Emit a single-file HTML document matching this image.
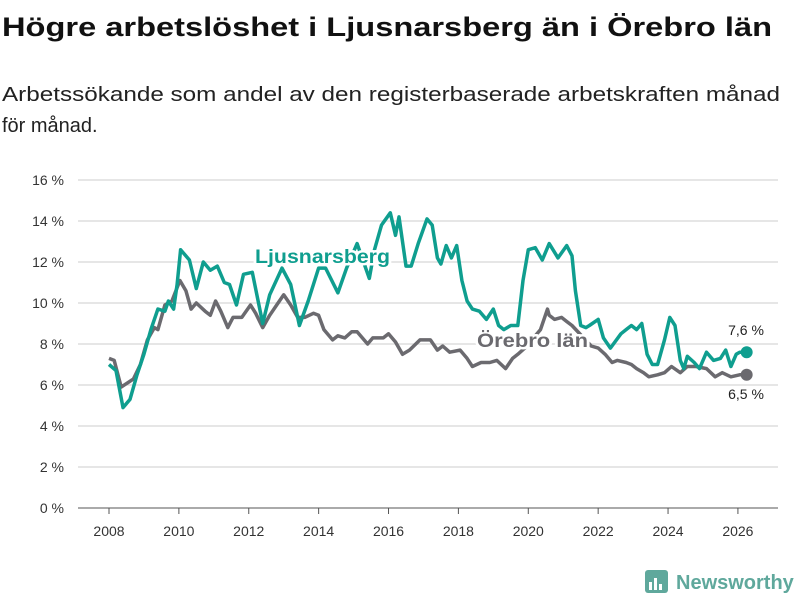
<!DOCTYPE html>
<html><head><meta charset="utf-8"><style>
body{margin:0;background:#fff;}
svg{display:block;font-family:"Liberation Sans",sans-serif;}
</style></head><body>
<svg id="chart" width="800" height="600" viewBox="0 0 800 600">
<text x="2" y="36" font-size="27" font-weight="bold" fill="#111" textLength="770" lengthAdjust="spacingAndGlyphs">Högre arbetslöshet i Ljusnarsberg än i Örebro län</text>
<text x="2" y="101" font-size="20" fill="#222" textLength="778" lengthAdjust="spacingAndGlyphs">Arbetssökande som andel av den registerbaserade arbetskraften månad</text>
<text x="2" y="132" font-size="20" fill="#222">för månad.</text>
<g id="grid"></g><g id="lines"></g><g id="labels"></g>
<g>
<rect x="645" y="570" width="23" height="23" rx="3" fill="#5fa89c"/>
<rect x="649" y="582" width="3" height="8" fill="#fff"/><rect x="654" y="578" width="3" height="12" fill="#fff"/><rect x="659" y="584" width="3" height="6" fill="#fff"/>
<text x="676" y="589" font-size="20" font-weight="bold" fill="#5fa89c">Newsworthy</text>
</g>
</svg>
<script>
const yTicks=[0,2,4,6,8,10,12,14,16];
const xTicks=[2008,2010,2012,2014,2016,2018,2020,2022,2024,2026];
const ljT=[2008.0,2008.2,2008.4,2008.6,2008.8,2009.0,2009.2,2009.4,2009.6,2009.7,2009.85,2009.95,2010.05,2010.3,2010.5,2010.7,2010.9,2011.1,2011.3,2011.45,2011.65,2011.85,2012.1,2012.4,2012.6,2012.95,2013.2,2013.45,2013.7,2014.0,2014.2,2014.55,2014.8,2015.1,2015.45,2015.6,2015.8,2016.05,2016.2,2016.3,2016.5,2016.65,2016.85,2017.1,2017.25,2017.4,2017.5,2017.65,2017.8,2017.95,2018.1,2018.25,2018.4,2018.6,2018.8,2019.0,2019.15,2019.3,2019.5,2019.7,2019.85,2020.0,2020.2,2020.4,2020.6,2020.85,2021.1,2021.25,2021.35,2021.5,2021.65,2021.75,2022.0,2022.15,2022.35,2022.65,2022.8,2022.95,2023.1,2023.25,2023.4,2023.55,2023.7,2023.9,2024.05,2024.2,2024.35,2024.45,2024.55,2024.75,2024.9,2025.1,2025.3,2025.5,2025.65,2025.8,2025.95,2026.05,2026.25];
const ljV=[7.0,6.7,4.9,5.3,6.5,7.5,8.7,9.7,9.6,10.1,9.7,10.9,12.6,12.1,10.7,12.0,11.6,11.8,11.0,10.9,9.9,11.4,11.5,9.0,10.4,11.7,10.9,8.9,10.1,11.7,11.7,10.5,11.7,12.9,11.2,12.6,13.8,14.4,13.3,14.2,11.8,11.8,12.9,14.1,13.8,12.2,11.9,12.8,12.2,12.8,11.1,10.1,9.7,9.6,9.2,9.7,8.9,8.7,8.9,8.9,11.1,12.6,12.7,12.1,12.9,12.2,12.8,12.3,10.6,8.9,8.8,8.9,9.2,8.3,7.8,8.5,8.7,8.9,8.7,9.0,7.5,7.0,7.0,8.2,9.3,8.9,7.2,6.8,7.4,7.1,6.8,7.6,7.2,7.3,7.7,6.9,7.5,7.6,7.6];
const orT=[2008.0,2008.15,2008.35,2008.7,2008.9,2009.1,2009.3,2009.4,2009.6,2009.8,2010.03,2010.2,2010.35,2010.5,2010.75,2010.9,2011.05,2011.2,2011.4,2011.55,2011.8,2012.05,2012.2,2012.4,2012.6,2012.8,2013.0,2013.2,2013.4,2013.6,2013.85,2014.0,2014.15,2014.4,2014.55,2014.75,2014.95,2015.1,2015.4,2015.55,2015.85,2016.0,2016.2,2016.4,2016.6,2016.9,2017.2,2017.4,2017.55,2017.75,2018.05,2018.25,2018.4,2018.65,2018.9,2019.1,2019.35,2019.55,2019.7,2019.9,2020.35,2020.55,2020.6,2020.75,2020.95,2021.1,2021.25,2021.8,2022.0,2022.2,2022.4,2022.55,2022.8,2022.95,2023.1,2023.3,2023.45,2023.7,2023.9,2024.1,2024.35,2024.55,2024.8,2025.1,2025.35,2025.55,2025.8,2026.05,2026.25];
const orV=[7.3,7.2,5.9,6.3,7.0,8.2,8.8,8.7,9.9,10.1,11.1,10.6,9.7,10.0,9.6,9.4,10.1,9.6,8.8,9.3,9.3,9.9,9.5,8.8,9.4,9.9,10.4,9.9,9.3,9.3,9.5,9.4,8.7,8.2,8.4,8.3,8.6,8.6,8.0,8.3,8.3,8.5,8.1,7.5,7.7,8.2,8.2,7.7,7.9,7.6,7.7,7.3,6.9,7.1,7.1,7.2,6.8,7.3,7.5,7.8,8.7,9.7,9.4,9.2,9.3,9.1,8.9,7.9,7.8,7.5,7.1,7.2,7.1,7.0,6.8,6.6,6.4,6.5,6.6,6.9,6.6,6.9,6.9,6.8,6.4,6.6,6.4,6.5,6.5];
const NS='http://www.w3.org/2000/svg';
const X=t=>109+(t-2008)*34.94;
const Y=v=>508-v*20.5;
function mk(tag,attrs,parent,txt){const e=document.createElementNS(NS,tag);for(const k in attrs)e.setAttribute(k,attrs[k]);if(txt!==undefined)e.textContent=txt;parent.appendChild(e);return e;}
const grid=document.getElementById('grid'),lines=document.getElementById('lines'),labels=document.getElementById('labels');
yTicks.forEach(v=>{
 const l=mk('line',{x1:78,x2:778,y1:Y(v),y2:Y(v),stroke:v===0?'#555':'#ddd','stroke-width':v===0?1:1.5},grid);
 
 
 const t=mk('text',{x:64,y:Y(v)+5,'text-anchor':'end','font-size':14,fill:'#333'},grid,v+' %');
 
 
});
xTicks.forEach(v=>{
 const tk=mk('line',{x1:X(v),x2:X(v),y1:508,y2:514,stroke:'#555'},grid);
 
 
 const t=mk('text',{x:X(v),y:536,'text-anchor':'middle','font-size':14,fill:'#333'},grid,String(v));
 
 
});
function series(T,V,color,name){
 const d=T.map((t,i)=>(i?'L':'M')+X(t).toFixed(1)+','+Y(V[i]).toFixed(1)).join('');
 const p=mk('path',{d:d,fill:'none',stroke:color,'stroke-width':3.5,'stroke-linejoin':'round'},lines);
 
 
 const n=T.length-1;
 const c=mk('circle',{cx:X(T[n]),cy:Y(V[n]),r:6,fill:color},lines);
 
 
}
series(orT,orV,'#6b6a6f','orebro');
series(ljT,ljV,'#0f9e8f','ljusnarsberg');
const halo={stroke:'#fff','stroke-width':5,'paint-order':'stroke','stroke-linejoin':'round'};
const l1=mk('text',Object.assign({x:255,y:263,'font-size':19,'font-weight':'bold',fill:'#0f9e8f',textLength:135,lengthAdjust:'spacingAndGlyphs'},halo),labels,'Ljusnarsberg');


const l2=mk('text',Object.assign({x:477,y:347,'font-size':19,'font-weight':'bold',fill:'#6b6a6f',textLength:111,lengthAdjust:'spacingAndGlyphs'},halo),labels,'Örebro län');


const v1=mk('text',{x:746,y:335,'text-anchor':'middle','font-size':14,fill:'#222'},labels,ljV[ljV.length-1].toFixed(1).replace('.',',')+' %');


const v2=mk('text',{x:746,y:399,'text-anchor':'middle','font-size':14,fill:'#222'},labels,orV[orV.length-1].toFixed(1).replace('.',',')+' %');


</script>
</body></html>
